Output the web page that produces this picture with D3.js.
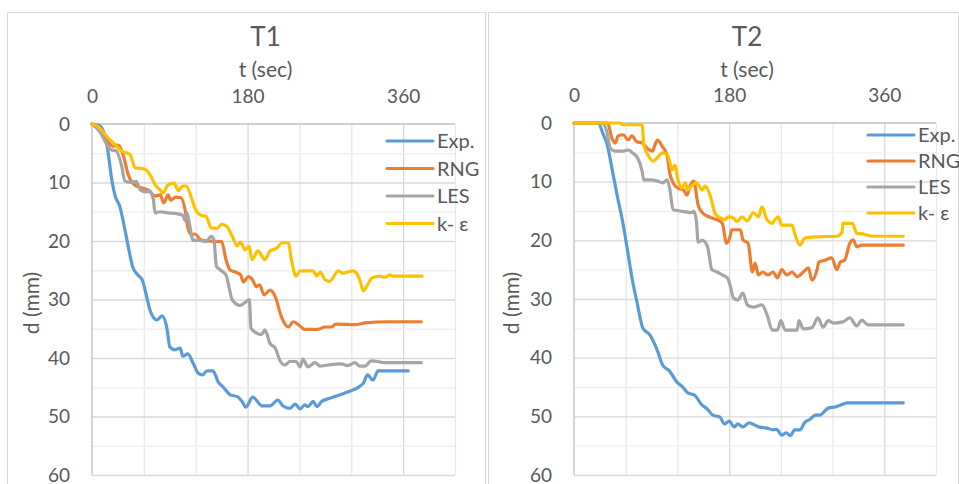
<!DOCTYPE html>
<html>
<head>
<meta charset="utf-8">
<script src="https://cdn.jsdelivr.net/npm/d3@7"></script>
<style>
  body { margin: 0; background: #fff; }
  svg { display: block; font-family: Lato, "Liberation Sans", sans-serif; }
</style>
</head>
<body>
<script>
// tick labels / names
const seriesNames = ["Exp.", "RNG", "LES", "k- ε"];
const seriesColors = ["#5b9bd5", "#ed7d31", "#a5a5a5", "#ffc000"];
const xTicks = [0, 180, 360];
const yTicks = [0, 10, 20, 30, 40, 50, 60];

// T1 : [t (sec), d (mm)]
const t1Exp = [[0,0],[9,0.3],[17,3.3],[23,9.6],[27,12.4],[32,14],[38,18],[42,21],[47,24.4],[53,25.8],[58,26.6],[64,30],[67,31.8],[75,33.5],[81,32.8],[87,35.2],[90,38.1],[96,38.6],[102,38.3],[105,39.7],[111,39.3],[117,40.9],[123,42.6],[128,42.9],[133,42.2],[140,42.2],[146,44.1],[152,45],[160,46.3],[168,46.6],[174,47.5],[178,48.4],[186,46.7],[197,48.2],[206,48.2],[215,47.2],[221,48.2],[229,48.6],[235,47.9],[241,48.7],[246,48],[250,48.3],[256,47.4],[260,48.3],[266,47.4],[275,46.9],[287,46.3],[298,45.7],[307,45.1],[314,44.3],[319,42.9],[325,43.8],[331,42.2],[366,42.2]];
const t1RNG = [[0,0],[10,1.3],[19,3.2],[24,3.8],[30,3.6],[36,5.3],[42,8.7],[45,9.7],[51,10.6],[57,10.9],[65,11.3],[73,12.3],[79,12.1],[83,13.5],[88,12.1],[91,13],[97,12.5],[103,12.6],[108,14.9],[111,17.8],[115,18.9],[119,18.8],[126,19.8],[134,20],[150,20.1],[155,23.2],[160,25],[166,25.3],[172,25.8],[175,27],[181,26.1],[186,26.7],[190,27.8],[194,27.5],[199,29.2],[206,28.4],[212,29.5],[219,32.9],[227,34.7],[233,33.8],[238,34.2],[246,35.1],[261,35.1],[270,34.7],[277,34.7],[282,34.2],[304,34.3],[316,34],[343,33.8],[381,33.8]];
const t1LES = [[0,0],[10,1.5],[16,3.2],[22,4.4],[28,4.6],[34,7],[38,9.7],[44,10],[51,9.8],[56,11.3],[61,11.6],[67,11.5],[71,12.9],[73,15.2],[79,15],[88,15.2],[97,15.3],[105,15.6],[108,16.5],[110,15.2],[113,17.3],[117,19.9],[125,19.9],[132,20.1],[138,19.2],[141,19.8],[144,24.3],[149,25],[155,25.8],[159,28.2],[162,30],[171,31],[178,30.4],[182,30],[184,34.9],[190,35.7],[196,36],[200,35.2],[206,37.5],[212,38.3],[218,40.6],[223,41.2],[229,40.6],[236,40.6],[241,41.5],[244,40.2],[250,41.5],[258,40.8],[264,41.4],[273,41.2],[288,41],[296,41.3],[304,40.8],[310,41.4],[316,41.4],[323,40.5],[331,40.6],[337,40.8],[381,40.8]];
const t1KE = [[0,0],[9,0.7],[15,1.8],[22,2.9],[28,3.7],[34,4.6],[39,4.9],[44,5.2],[50,7.5],[57,7.6],[62,7.8],[68,8.9],[73,10.4],[79,11.3],[82,11.8],[88,10.4],[95,10.1],[100,11.4],[105,10.6],[109,10.6],[115,12.6],[120,14.7],[126,15.6],[132,15.8],[138,17.8],[145,17.8],[150,17.1],[156,17.5],[162,19.1],[168,20.8],[172,20.2],[177,21.5],[182,20.9],[185,23.2],[192,21.7],[200,23.2],[206,21.7],[214,21.2],[220,20.3],[227,20.3],[231,23.4],[236,26],[241,25.1],[256,25.1],[260,26],[264,25.3],[270,26.7],[275,26.9],[285,25.1],[290,25.5],[302,25.1],[309,26.3],[314,28.5],[318,27.7],[324,26.3],[333,26],[339,26.2],[345,25.8],[348,26],[382,26]];

// T2 : [t (sec), d (mm)]
const t2Exp = [[0,0],[28,0],[34,2],[38,3.4],[45,8.5],[51,13],[56,16.5],[62,21.6],[67,26.2],[73,30.5],[80,35],[88,36.1],[96,38.5],[103,41.3],[111,42.3],[119,44.1],[126,45],[132,46],[140,46.4],[148,48],[155,48.8],[161,49.8],[169,50.1],[175,51.3],[180,50.8],[186,51.8],[190,51.3],[196,51.8],[203,51.1],[210,51.5],[214,51.8],[224,52],[231,52.3],[235,52.2],[241,53.2],[246,52.8],[251,53.3],[256,52.3],[262,52.3],[268,51],[274,50.5],[280,49.8],[285,49.8],[295,48.6],[303,48.4],[309,48.1],[317,47.7],[382,47.7]];
const t2RNG = [[0,0],[39,0],[44,2.6],[48,3.4],[51,2.2],[57,2],[63,2.9],[67,2.2],[73,3.2],[79,3.4],[85,4.3],[91,4.8],[94,3.7],[97,2.9],[102,3.9],[108,5.5],[111,8.5],[115,10.2],[121,11.1],[127,11.4],[131,12.3],[135,10.6],[139,9.9],[144,14],[149,15.3],[155,15.9],[160,16.2],[166,16.5],[172,17.1],[177,20.5],[181,19.4],[183,18.2],[193,18.2],[196,19.9],[202,20.5],[207,25.4],[210,23.9],[214,25.9],[219,25.4],[225,25.9],[231,25.4],[236,26.4],[241,25],[247,25.9],[253,25.4],[259,26.2],[266,25.4],[272,24.7],[276,26.8],[282,25],[284,23.7],[291,23.4],[299,23],[305,25],[309,23.7],[314,23.4],[320,20.5],[324,19.9],[328,21.1],[334,20.8],[382,20.8]];
const t2LES = [[0,0],[32,0],[38,1.4],[42,4.3],[48,4.8],[57,4.8],[63,4.6],[68,5.1],[74,6],[79,8.2],[81,9.7],[88,9.7],[97,9.9],[103,10.2],[108,9.7],[111,11.1],[115,14.8],[123,15],[131,15.2],[137,15.3],[139,15],[142,16.7],[144,20.3],[149,20],[155,21.1],[160,25],[166,25.4],[172,25.9],[178,26.4],[181,27.6],[185,29.8],[190,30.2],[196,29],[201,31],[208,31.4],[218,31],[224,32.7],[230,35.3],[236,35.3],[240,33.7],[245,35.3],[259,35.3],[261,33.7],[266,35.1],[276,34.9],[283,33.2],[289,34.8],[295,33.7],[301,34.1],[312,33.9],[320,33.2],[328,34.6],[334,33.6],[341,34.4],[382,34.4]];
const t2KE = [[0,0],[53,0],[56,0.3],[74,0.3],[79,0.3],[81,3.7],[86,5.5],[92,6.5],[96,6],[103,5.1],[109,5.6],[114,8],[117,7.2],[121,9.9],[125,11.1],[129,10.2],[132,11.4],[137,10.6],[142,10.2],[149,11.4],[152,10.7],[158,12.4],[164,15.5],[170,16.2],[175,16.5],[179,16],[185,16.2],[189,16.8],[195,16],[201,16.7],[208,15.3],[214,16],[218,14.3],[224,16.5],[230,17.1],[233,16.5],[237,16],[241,17.4],[253,17.4],[256,18.8],[262,20.8],[268,19.6],[282,19.4],[305,19.3],[311,18.6],[312,17.1],[323,17.1],[328,18.8],[335,18.9],[346,19.3],[382,19.3]];

const W = 959, H = 484;
const svg = d3.select("body").append("svg").attr("width", W).attr("height", H);

const panels = [
  { title: "T1", series: [t1Exp, t1RNG, t1LES, t1KE], frame: [7, 12, 478],
    x0: 92, x1: 455, y0: 124, y1: 475, legX: 387, legY: 141, legStep: 27.5, ylabX: 32 },
  { title: "T2", series: [t2Exp, t2RNG, t2LES, t2KE], frame: [488, 12, 470],
    x0: 574, x1: 936, y0: 123, y1: 475, legX: 868, legY: 135, legStep: 26, ylabX: 512 }
];

const textCol = "#595959";

panels.forEach(p => {
  const g = svg.append("g");

  g.append("rect")
    .attr("x", p.frame[0] + 0.5).attr("y", p.frame[1] + 0.5)
    .attr("width", p.frame[2]).attr("height", H)
    .attr("fill", "#fff").attr("stroke", "#d9d9d9");

  const x = d3.scaleLinear().domain([0, 420]).range([p.x0, p.x1]);
  const y = d3.scaleLinear().domain([0, 60]).range([p.y0, p.y1]);

  // grid
  g.append("g")
    .attr("transform", `translate(0,${p.y0})`)
    .call(d3.axisTop(x).tickValues(d3.range(60, 421, 60)).tickSize(-(p.y1 - p.y0)).tickFormat(""))
    .call(a => a.select(".domain").remove())
    .call(a => a.selectAll("line").attr("stroke", d => d % 180 === 0 ? "#d9d9d9" : "#e8e8e8").attr("stroke-width", 1.3));
  g.append("g")
    .attr("transform", `translate(${p.x0},0)`)
    .call(d3.axisLeft(y).tickValues(d3.range(5, 61, 5)).tickSize(-(p.x1 - p.x0)).tickFormat(""))
    .call(a => a.select(".domain").remove())
    .call(a => a.selectAll("line").attr("stroke", d => d % 10 === 0 ? "#d9d9d9" : "#f0f0f0").attr("stroke-width", 1.3));

  // axis lines
  g.append("line").attr("x1", p.x0).attr("x2", p.x1).attr("y1", p.y0).attr("y2", p.y0)
    .attr("stroke", "#bfbfbf").attr("stroke-width", 1.3);
  g.append("line").attr("x1", p.x0).attr("x2", p.x0).attr("y1", p.y0).attr("y2", p.y1)
    .attr("stroke", "#bfbfbf").attr("stroke-width", 1.3);

  // tick labels
  g.append("g")
    .attr("transform", `translate(0,${p.y0 - 18})`)
    .call(d3.axisTop(x).tickValues(xTicks).tickSize(0))
    .call(a => a.select(".domain").remove())
    .call(a => a.selectAll("text").attr("fill", textCol).attr("font-size", 19).attr("font-family", "Lato"));
  g.append("g")
    .attr("transform", `translate(${p.x0 - 19},0)`)
    .call(d3.axisLeft(y).tickValues(yTicks).tickSize(0))
    .call(a => a.select(".domain").remove())
    .call(a => a.selectAll("text").attr("fill", textCol).attr("font-size", 19).attr("font-family", "Lato"));

  const cx = (p.x0 + p.x1) / 2 - 8;
  g.append("text").attr("x", cx).attr("y", 46).attr("text-anchor", "middle")
    .attr("font-size", 26).attr("fill", textCol).text(p.title);
  g.append("text").attr("x", cx).attr("y", 77).attr("text-anchor", "middle")
    .attr("font-size", 21).attr("fill", textCol).text("t (sec)");
  g.append("text").attr("transform", `translate(${p.ylabX + 7},303) rotate(-90)`)
    .attr("text-anchor", "middle").attr("font-size", 21).attr("fill", textCol).text("d (mm)");

  const line = d3.line().x(d => x(d[0])).y(d => y(d[1])).curve(d3.curveMonotoneX);
  p.series.forEach((s, i) => {
    g.append("path").datum(s).attr("d", line)
      .attr("fill", "none").attr("stroke", seriesColors[i]).attr("stroke-width", 3.2)
      .attr("stroke-linejoin", "round").attr("stroke-linecap", "round");
  });

  // legend
  seriesNames.forEach((n, i) => {
    const ly = p.legY + i * p.legStep;
    g.append("line").attr("x1", p.legX).attr("x2", p.legX + 46).attr("y1", ly).attr("y2", ly)
      .attr("stroke", seriesColors[i]).attr("stroke-width", 3.2).attr("stroke-linecap", "round");
    g.append("text").attr("x", p.legX + 50).attr("y", ly + 7)
      .attr("font-size", 20).attr("fill", textCol).text(n);
  });
});
</script>
</body>
</html>
